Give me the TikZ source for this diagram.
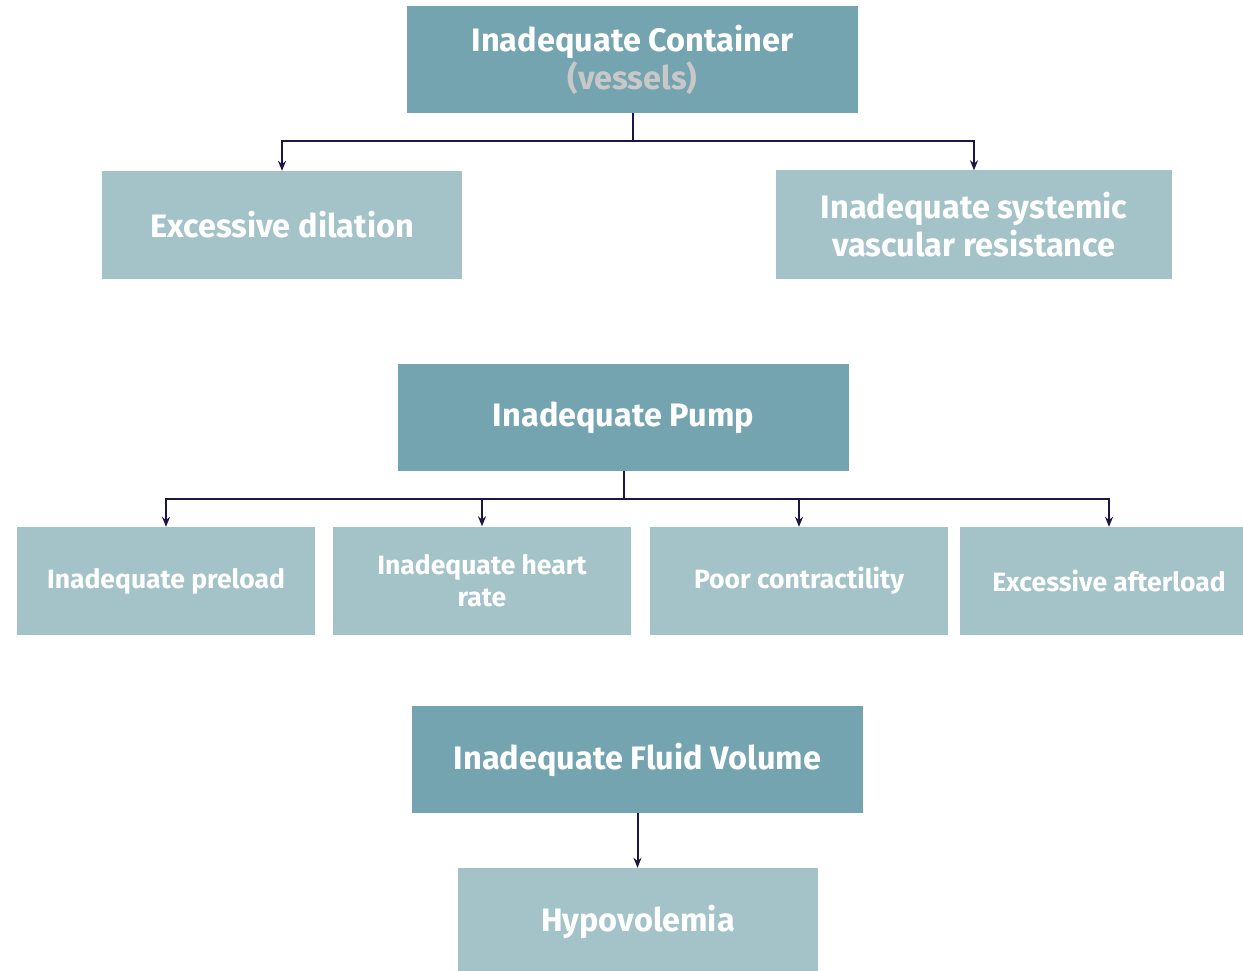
\documentclass[tikz,border=0pt]{standalone}
\usepackage{fontspec}
\setmainfont{Fira Sans}
\usetikzlibrary{arrows.meta}
\definecolor{headfill}{HTML}{74A4AF}
\definecolor{subfill}{HTML}{A3C3C8}
\definecolor{linkcol}{HTML}{1F1545}
\definecolor{notecol}{HTML}{C8C8C8}
\tikzset{
  headbox/.style={fill=headfill, text=white, minimum width=451pt, minimum height=107pt,
    inner sep=0pt, align=center, font=\fontsize{32.5}{38}\selectfont\bfseries},
  subbox/.style={fill=subfill, text=white, minimum width=#1, minimum height=108pt,
    inner sep=0pt, align=center, font=\fontsize{32.5}{38}\selectfont\bfseries},
  smallbox/.style={fill=subfill, text=white, minimum width=298pt, minimum height=108pt,
    inner sep=0pt, align=center, font=\fontsize{26.5}{32}\selectfont\bfseries},
  link/.style={draw=linkcol, line width=2pt, -{Stealth[length=10pt,width=8pt]}},
  trunk/.style={draw=linkcol, line width=2pt}
}
\begin{document}
\begin{tikzpicture}[x=1pt,y=-1pt]
\clip (0,0) rectangle (1243,971);
\fill[white] (0,0) rectangle (1243,971);

% vessels branch
\node[headbox] (cont) at (632.5,59.5) {Inadequate Container\\\textcolor{notecol}{(vessels)}};
\node[subbox=360pt] (dil) at (282,225) {Excessive dilation};
\node[subbox=396pt] (svr) at (974,224.5) {Inadequate systemic\\vascular resistance};
\coordinate (cj) at (632.5,141);
\draw[trunk] (cont.south) -- (cj);
\draw[link] (cj) -| (dil.north);
\draw[link] (cj) -| (svr.north);

% pump branch
\node[headbox] (pump) at (623.5,417.5) {\raisebox{-3pt}{Inadequate Pump}};
\node[smallbox] (pre) at (166,581) {Inadequate preload};
\node[smallbox] (hr) at (482,580.5) {Inadequate heart\\rate};
\node[smallbox] (con) at (799,581) {Poor contractility};
\node[smallbox] (aft) at (1109,581) {Excessive afterload};
\coordinate (pj) at (623.5,499);
\draw[trunk] (pump.south) -- (pj);
\draw[link] (pj) -| (pre.north);
\draw[link] (pj) -| (hr.north);
\draw[link] (pj) -| (con.north);
\draw[link] (pj) -| (aft.north);

% volume branch
\node[headbox] (fluid) at (637.5,759.5) {Inadequate Fluid Volume};
\node[subbox=360pt, minimum height=107pt] (hypo) at (638,921.5) {Hypovolemia};
\draw[link] (fluid.south) -- (fluid.south |- hypo.north);
\end{tikzpicture}
\end{document}
